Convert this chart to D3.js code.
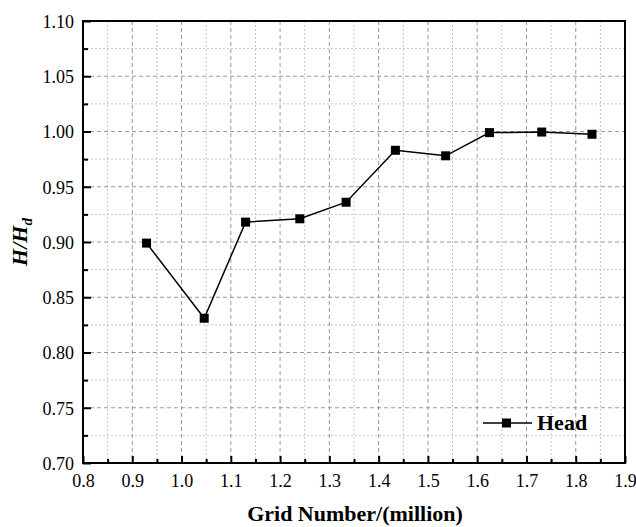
<!DOCTYPE html>
<html>
<head>
<meta charset="utf-8">
<script src="https://cdn.jsdelivr.net/npm/d3@7"></script>
<style>
  body { margin: 0; background: #fff; }
  svg text { font-family: 'Liberation Serif', Tinos, 'Times New Roman', Times, 'DejaVu Serif', serif !important; }
</style>
</head>
<body>
<div id="chart"></div>
<script>
// grid number (million) vs H/Hd
const gridNumber = [0.929, 1.046, 1.130, 1.240, 1.334, 1.434, 1.536, 1.625, 1.731, 1.833];
const headRatio = [0.899, 0.831, 0.918, 0.921, 0.936, 0.983, 0.978, 0.999, 0.9995, 0.9975];
const xTicks = [0.8, 0.9, 1.0, 1.1, 1.2, 1.3, 1.4, 1.5, 1.6, 1.7, 1.8, 1.9];
const yTicks = [0.70, 0.75, 0.80, 0.85, 0.90, 0.95, 1.00, 1.05, 1.10];
const seriesName = "Head";

const width = 636, height = 527;
const margin = {top: 21, right: 11, bottom: 64, left: 83};
const w = width - margin.left - margin.right;
const h = height - margin.top - margin.bottom;

let svg = d3.select("#chart")
    .append("svg")
    .attr("width", width)
    .attr("height", height)
    .append("g")
    .attr("transform", `translate(${margin.left},${margin.top})`);

let x = d3.scaleLinear().domain([0.8, 1.9]).range([0, w]);
let y = d3.scaleLinear().domain([0.70, 1.10]).range([h, 0]);

// minor ticks halfway between majors
let xMinor = d3.range(0.85, 1.9, 0.1);
let yMinor = d3.range(0.725, 1.10, 0.05);

// minor grid (dotted, lighter)
svg.append("g").selectAll("line").data(xMinor).enter().append("line")
    .attr("x1", d => x(d)).attr("x2", d => x(d)).attr("y1", 0).attr("y2", h)
    .attr("stroke", "#c4c4c4").attr("stroke-dasharray", "2,2");
svg.append("g").selectAll("line").data(yMinor).enter().append("line")
    .attr("y1", d => y(d)).attr("y2", d => y(d)).attr("x1", 0).attr("x2", w)
    .attr("stroke", "#c4c4c4").attr("stroke-dasharray", "2,2");

// major grid (dashed)
svg.append("g").selectAll("line").data(xTicks.slice(1, -1)).enter().append("line")
    .attr("x1", d => x(d)).attr("x2", d => x(d)).attr("y1", 0).attr("y2", h)
    .attr("stroke", "#999").attr("stroke-dasharray", "4,3");
svg.append("g").selectAll("line").data(yTicks.slice(1, -1)).enter().append("line")
    .attr("y1", d => y(d)).attr("y2", d => y(d)).attr("x1", 0).attr("x2", w)
    .attr("stroke", "#999").attr("stroke-dasharray", "4,3");

// axes with inward ticks
let xAxis = svg.append("g")
    .attr("transform", `translate(0,${h})`)
    .call(d3.axisBottom(x).tickValues(xTicks).tickSize(-7).tickPadding(11).tickFormat(d3.format(".1f")));
let xAxisMinor = svg.append("g")
    .attr("transform", `translate(0,${h})`)
    .call(d3.axisBottom(x).tickValues(xMinor).tickSize(-4).tickFormat(""));

let yAxis = svg.append("g")
    .call(d3.axisLeft(y).tickValues(yTicks).tickSize(-8).tickPadding(9).tickFormat(d3.format(".2f")));
let yAxisMinor = svg.append("g")
    .call(d3.axisLeft(y).tickValues(yMinor).tickSize(-5).tickFormat(""));

[xAxis, yAxis, xAxisMinor, yAxisMinor].forEach(function(a) {
  a.attr("font-family", null).attr("font-size", null);
  a.select(".domain").remove();
  a.selectAll(".tick line").attr("stroke", "#000").attr("stroke-width", 2);
  a.selectAll("text")
      .style("font-size", "18px")
      .attr("fill", "#000");
});
yAxis.selectAll("text").attr("dy", "0.35em");

// frame
svg.append("rect")
    .attr("width", w).attr("height", h)
    .attr("fill", "none").attr("stroke", "#000").attr("stroke-width", 2);

// line + markers
let line = d3.line()
    .x(function(d, i) { return x(gridNumber[i]); })
    .y(function(d) { return y(d); });

svg.append("path")
    .datum(headRatio)
    .attr("fill", "none")
    .attr("stroke", "#000")
    .attr("stroke-width", 1.5)
    .attr("d", line);

svg.selectAll(".pt").data(headRatio).enter().append("rect")
    .attr("class", "pt")
    .attr("x", (d, i) => x(gridNumber[i]) - 4.5)
    .attr("y", d => y(d) - 4.5)
    .attr("width", 9).attr("height", 9)
    .attr("fill", "#000");

// legend
let legend = svg.append("g").attr("transform", `translate(${400},${402})`);
legend.append("line").attr("x1", 0).attr("x2", 49).attr("y1", 0).attr("y2", 0)
    .attr("stroke", "#000").attr("stroke-width", 1.5);
legend.append("rect").attr("x", 19).attr("y", -4.5).attr("width", 9).attr("height", 9).attr("fill", "#000");
legend.append("text").attr("x", 54).attr("y", 7)
    .style("font-size", "22px").style("font-weight", "bold")
    .text(seriesName);

// axis titles
svg.append("text")
    .attr("transform", `translate(${w / 2 + 1}, ${h + 58})`)
    .style("text-anchor", "middle")
    .style("font-size", "22px")
    .style("font-weight", "bold")
    .text("Grid Number/(million)");

let yt = svg.append("text")
    .attr("transform", `translate(${-56}, ${h / 2}) rotate(-90)`)
    .style("text-anchor", "middle")
    .style("font-size", "22px")
    .style("font-weight", "bold")
    .style("font-style", "italic");
yt.append("tspan").text("H/H");
yt.append("tspan").attr("dy", 5).style("font-size", "15px").text("d");
</script>
</body>
</html>
